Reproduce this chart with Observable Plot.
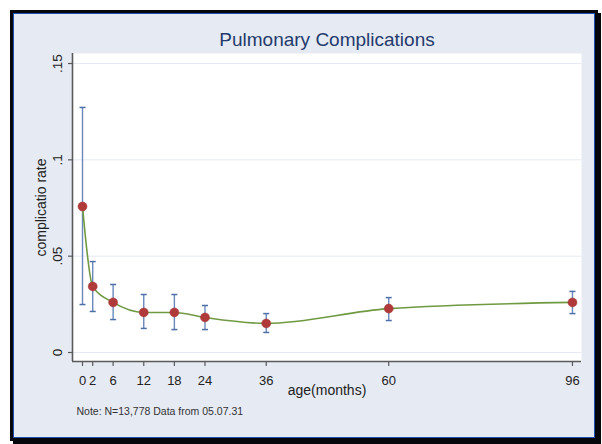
<!DOCTYPE html>
<html>
<head>
<meta charset="utf-8">
<script src="https://cdn.jsdelivr.net/npm/d3@7"></script>
<script src="https://cdn.jsdelivr.net/npm/@observablehq/plot@0.6"></script>
<style>
  html, body { margin: 0; padding: 0; background: #ffffff; }
  #wrap { position: relative; width: 602px; height: 444px; overflow: hidden; }
  #panel {
    position: absolute; left: 10px; top: 10px; width: 588px; height: 431px;
    box-sizing: border-box; background: #e6eaf3;
    border: 3px solid #05070c;
    box-shadow: inset 0 0 0 1px #1d4fae, 3px 3px 0 0 #05070c;
  }
  #chart { position: absolute; left: 0; top: 0; }
</style>
</head>
<body>
<div id="wrap">
  <div id="panel"></div>
  <div id="chart"></div>
</div>
<script>
// Data
const ages  = [0, 2, 6, 12, 18, 24, 36, 60, 96];
const rate  = [0.0758, 0.0343, 0.0260, 0.0208, 0.0208, 0.0182, 0.0151, 0.0228, 0.0260];
const lower = [0.0249, 0.0213, 0.0171, 0.0125, 0.0119, 0.0119, 0.0104, 0.0166, 0.0202];
const upper = [0.1272, 0.0472, 0.0353, 0.0301, 0.0301, 0.0244, 0.0202, 0.0285, 0.0317];
const xTicks = [0, 2, 6, 12, 18, 24, 36, 60, 96];
const yTicks = [0, 0.05, 0.1, 0.15];
const yTickLabels = ["0", ".05", ".1", ".15"];
const titleText = "Pulmonary Complications";
const xLabel = "age(months)";
const yLabel = "complicatio rate";
const noteText = "Note: N=13,778 Data from 05.07.31";

const rows = ages.map((a, i) => ({age: a, rate: rate[i], lo: lower[i], hi: upper[i]}));
const yTickRows = yTicks.map((v, i) => ({v, label: yTickLabels[i]}));

const xDomain = [-1.96, 97.77];
const yDomain = [-0.00467, 0.1552];

// horizontal cap symbol for error bars
const capSymbol = {
  draw(ctx, size) {
    const w = Math.sqrt(size / Math.PI);
    ctx.moveTo(-w, 0);
    ctx.lineTo(w, 0);
  }
};

const font = "'Liberation Sans', Arial, Helvetica, sans-serif";

const chart = Plot.plot({
  width: 602,
  height: 444,
  marginLeft: 72,
  marginRight: 21,
  marginTop: 53,
  marginBottom: 83,
  style: {background: "transparent", fontFamily: font, overflow: "visible"},
  x: {domain: xDomain, axis: null},
  y: {domain: yDomain, axis: null},
  marks: [
    Plot.frame({fill: "#ffffff", stroke: null}),
    Plot.gridY(yTicks, {stroke: "#e6e9f4", strokeOpacity: 1, strokeWidth: 1}),
    // axis lines
    Plot.ruleX([xDomain[0]], {stroke: "#5a5a5a", strokeWidth: 1.6}),
    Plot.ruleY([yDomain[0]], {stroke: "#5a5a5a", strokeWidth: 1.6}),
    // y axis ticks and rotated labels
    Plot.axisY({ticks: yTicks, tickSize: 4, tickFormat: () => "", label: null, stroke: "#5a5a5a", strokeWidth: 1.2}),
    Plot.text(yTickRows, {
      frameAnchor: "left", y: "v", text: "label", rotate: -90, dx: -14.5,
      textAnchor: "middle", lineAnchor: "middle", fontSize: 13.5, fill: "#222"
    }),
    // x axis
    Plot.axisX({ticks: xTicks, tickSize: 5, tickPadding: 9, tickFormat: d => String(d), label: null,
      fontSize: 13, fill: "#222", stroke: "#5a5a5a", strokeWidth: 1.2}),
    // axis titles
    Plot.text([xLabel], {frameAnchor: "bottom", dy: 29.5, lineAnchor: "middle", fontSize: 14, fill: "#222"}),
    Plot.text([yLabel], {frameAnchor: "left", dx: -31, rotate: -90, lineAnchor: "middle", textAnchor: "middle", fontSize: 14, fill: "#222"}),
    // title
    Plot.text([titleText], {frameAnchor: "top", dy: -14, lineAnchor: "middle", fontSize: 19, fill: "#243b6c", style: "letter-spacing:0.5px"}),
    // note
    Plot.text([noteText], {frameAnchor: "bottom-left", dx: 4, dy: 50, textAnchor: "start", lineAnchor: "middle", fontSize: 10.5, fill: "#333"}),
    // error bars
    Plot.ruleX(rows, {x: "age", y1: "lo", y2: "hi", stroke: "#6a88bb", strokeWidth: 1.4}),
    Plot.dot(rows, {x: "age", y: "lo", symbol: capSymbol, r: 3, stroke: "#4d6fa8", strokeWidth: 1.5, fill: "none"}),
    Plot.dot(rows, {x: "age", y: "hi", symbol: capSymbol, r: 3, stroke: "#4d6fa8", strokeWidth: 1.5, fill: "none"}),
    // fitted line
    Plot.line(rows, {x: "age", y: "rate", curve: "monotone-x", stroke: "#6f9a42", strokeWidth: 1.6}),
    // points
    Plot.dot(rows, {x: "age", y: "rate", r: 4.5, fill: "#b03a3a", stroke: "#a33434", strokeWidth: 0.5})
  ]
});

document.getElementById("chart").appendChild(chart);
</script>
</body>
</html>
